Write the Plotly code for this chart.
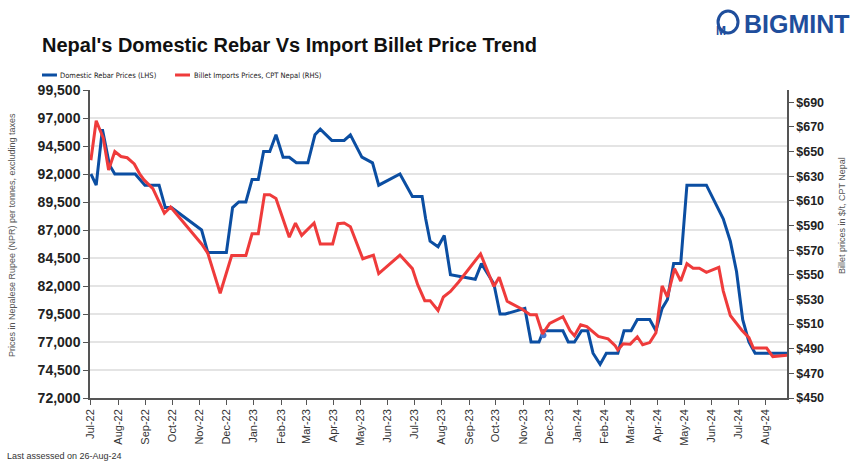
import plotly.graph_objects as go

# Domestic rebar (LHS, NPR/t)
rebar_dates = [
    "2022-07-01", "2022-07-07", "2022-07-14", "2022-07-22", "2022-07-28", "2022-08-20",
    "2022-08-31", "2022-09-16", "2022-09-23", "2022-09-30", "2022-11-03", "2022-11-10",
    "2022-12-01", "2022-12-08", "2022-12-15", "2022-12-23", "2022-12-30", "2023-01-06",
    "2023-01-12", "2023-01-19", "2023-01-26", "2023-02-03", "2023-02-10", "2023-02-18",
    "2023-03-03", "2023-03-11", "2023-03-17", "2023-03-30", "2023-04-13", "2023-04-20",
    "2023-05-03", "2023-05-09", "2023-05-15", "2023-05-22", "2023-06-15", "2023-06-29",
    "2023-07-10", "2023-07-14", "2023-07-19", "2023-07-28", "2023-08-04", "2023-08-11",
    "2023-09-08", "2023-09-15", "2023-09-29", "2023-10-06", "2023-10-12", "2023-11-03",
    "2023-11-10", "2023-11-19", "2023-11-24", "2023-12-16", "2023-12-22", "2023-12-29",
    "2024-01-06", "2024-01-13", "2024-01-19", "2024-01-27", "2024-02-03", "2024-02-16",
    "2024-02-23", "2024-03-02", "2024-03-09", "2024-03-23", "2024-03-30", "2024-04-06",
    "2024-04-12", "2024-04-19", "2024-04-27", "2024-05-04", "2024-05-26", "2024-06-14",
    "2024-06-22", "2024-06-29", "2024-07-06", "2024-07-13", "2024-07-20", "2024-08-25",
]
rebar_prices = [
    92000, 91000, 96000, 92800, 92000, 92000,
    91000, 91000, 89000, 89000, 87000, 85000,
    85000, 89000, 89500, 89500, 91500, 91500,
    94000, 94000, 95500, 93500, 93500, 93000,
    93000, 95500, 96000, 95000, 95000, 95500,
    93500, 93250, 93000, 91000, 92000, 90000,
    90000, 88000, 86000, 85500, 86500, 83000,
    82600, 84000, 82200, 79500, 79500, 80000,
    77000, 77000, 78000, 78000, 77000, 77000,
    78000, 78000, 76000, 75000, 76000, 76000,
    78000, 78000, 79000, 79000, 78000, 80000,
    80800, 84000, 84000, 91000, 91000, 88000,
    86000, 83300, 79000, 77000, 76000, 76000,
]

# Billet imports CPT Nepal (RHS, $/t)
billet_dates = [
    "2022-07-01", "2022-07-07", "2022-07-15", "2022-07-21", "2022-07-28", "2022-08-04",
    "2022-08-11", "2022-08-19", "2022-08-25", "2022-08-30", "2022-09-09", "2022-09-22",
    "2022-09-29", "2022-11-03", "2022-11-10", "2022-11-24", "2022-12-07", "2022-12-23",
    "2022-12-30", "2023-01-06", "2023-01-13", "2023-01-19", "2023-01-26", "2023-02-10",
    "2023-02-17", "2023-02-24", "2023-03-10", "2023-03-17", "2023-03-31", "2023-04-06",
    "2023-04-13", "2023-04-20", "2023-05-04", "2023-05-16", "2023-05-22", "2023-06-15",
    "2023-06-29", "2023-07-05", "2023-07-13", "2023-07-19", "2023-07-28", "2023-08-03",
    "2023-08-11", "2023-08-20", "2023-09-14", "2023-09-29", "2023-10-05", "2023-10-14",
    "2023-10-31", "2023-11-09", "2023-11-16", "2023-11-23", "2023-12-01", "2023-12-16",
    "2023-12-24", "2023-12-29", "2024-01-05", "2024-01-12", "2024-01-25", "2024-02-05",
    "2024-02-13", "2024-02-16", "2024-02-22", "2024-03-01", "2024-03-09", "2024-03-15",
    "2024-03-23", "2024-03-30", "2024-04-06", "2024-04-12", "2024-04-20", "2024-04-27",
    "2024-05-04", "2024-05-11", "2024-05-18", "2024-05-26", "2024-06-09", "2024-06-14",
    "2024-06-22", "2024-07-05", "2024-07-13", "2024-07-18", "2024-08-02", "2024-08-09",
    "2024-08-25",
]
billet_prices = [
    643, 675, 661, 635, 650, 646,
    645, 640, 632, 627, 620, 600,
    605, 575, 567.5, 535, 565.6, 565.6,
    583.3, 583.3, 615, 615, 612, 580.5,
    592, 582, 592, 575, 575, 591.5,
    592, 589, 563, 566, 551, 566,
    555, 542, 529, 529, 521, 532,
    536.5, 544, 567, 540.5, 548, 528.5,
    522, 517.6, 517.6, 502, 510.5, 516,
    504.6, 500.5, 509.5, 508, 500, 498,
    492.4, 489, 494, 493.7, 499.7, 493.2,
    495, 503, 541, 532, 555, 545,
    559, 555.3, 555.3, 552, 556, 537,
    517, 505, 499, 490.5, 490.5, 483.6,
    484.8,
]

BLUE = "#0b4ea2"
RED = "#ef3b3b"
FONT = "Liberation Sans"
NARROW = "DejaVu Sans Condensed, Roboto Condensed, Roboto"

fig = go.Figure()
fig.add_trace(go.Scatter(x=rebar_dates, y=rebar_prices, mode="lines", name="Domestic Rebar Prices (LHS)",
                         line=dict(color=BLUE, width=3)))
fig.add_trace(go.Scatter(x=billet_dates, y=billet_prices, mode="lines", yaxis="y2",
                         name="Billet Imports Prices, CPT Nepal (RHS)", line=dict(color=RED, width=3)))
# the single marker point visible on the rebar line
fig.add_trace(go.Scatter(x=[rebar_dates[50]], y=[rebar_prices[50] - 400], mode="markers",
                         marker=dict(color="#4a78cf", size=6), showlegend=False))

fig.update_layout(
    width=851, height=462,
    margin=dict(l=90, r=64, t=90, b=64),
    paper_bgcolor="white", plot_bgcolor="white",
    font=dict(family=FONT, color="#333333"),
    showlegend=False,
    xaxis=dict(
        type="date", range=["2022-06-30", "2024-08-25"],
        tick0="2022-07-01", dtick="M1", tickformat="%b-%y", tickangle=-90,
        ticks="outside", ticklen=5, tickcolor="#555555",
        showline=True, linecolor="#555555", linewidth=1.5,
        showgrid=False, tickfont=dict(size=11, color="#333333"),
    ),
    yaxis=dict(
        range=[72000, 99500], dtick=2500, tick0=72000, tickformat=",",
        ticks="outside", ticklen=5, tickcolor="#555555",
        showline=True, linecolor="#555555", linewidth=1.5,
        showgrid=True, gridcolor="#e4e4e4", gridwidth=2, zeroline=False,
        tickfont=dict(size=14, color="#222222", weight="bold"),
    ),
    yaxis2=dict(
        range=[450, 700], dtick=20, tick0=450, tickprefix="$",
        overlaying="y", side="right",
        ticks="outside", ticklen=5, tickcolor="#555555",
        showline=True, linecolor="#555555", linewidth=1.5,
        showgrid=False, zeroline=False,
        tickfont=dict(size=12.5, color="#222222", weight="bold"),
    ),
)

# title, legend, axis titles, footnote, logo
notes = [
    dict(text="<b>Nepal's Domestic Rebar Vs Import Billet Price Trend</b>", x=-0.0717, y=1.146,
         xanchor="left", yanchor="middle", font=dict(size=20, color="#111111")),
    dict(text="Domestic Rebar Prices (LHS)", x=-0.0459, y=1.0487, xanchor="left", yanchor="middle",
         font=dict(size=7.5, family=NARROW, color="#222222")),
    dict(text="Billet Imports Prices, CPT Nepal (RHS)", x=0.1463, y=1.0487, xanchor="left", yanchor="middle",
         font=dict(size=7.5, family=NARROW, color="#222222")),
    dict(text="Prices in Nepalese Rupee (NPR) per tonnes, excluding taxes", x=-0.1119, y=0.529,
         textangle=-90, xanchor="center", yanchor="middle", font=dict(size=9, color="#555555")),
    dict(text="Billet prices in $/t, CPT Nepal", x=1.0789, y=0.594,
         textangle=-90, xanchor="center", yanchor="middle", font=dict(size=9, color="#555555")),
    dict(text="Last assessed on 26-Aug-24", x=-0.122, y=-0.188, xanchor="left", yanchor="middle",
         font=dict(size=9, color="#333333")),
    dict(text="<b>BIGMINT</b>", x=0.9354, y=1.214, xanchor="left", yanchor="middle",
         font=dict(size=25, color="#1f4e9c")),
]
for n in notes:
    fig.add_annotation(xref="paper", yref="paper", showarrow=False, **n)

fig.add_shape(type="line", xref="paper", yref="paper", x0=-0.0689, x1=-0.0474, y0=1.0487, y1=1.0487,
              line=dict(color=BLUE, width=3))
fig.add_shape(type="line", xref="paper", yref="paper", x0=0.122, x1=0.1435, y0=1.0487, y1=1.0487,
              line=dict(color=RED, width=3))
fig.add_shape(type="circle", xref="paper", yref="paper", xsizemode="pixel", ysizemode="pixel",
              xanchor=0.9154, yanchor=1.2208, x0=-10, x1=10, y0=-11, y1=11,
              line=dict(color="#1f4e9c", width=3), fillcolor="white")
fig.add_annotation(xref="paper", yref="paper", x=0.9154, y=1.2208, showarrow=False, text="<b>M</b>",
                   font=dict(size=12, color="#1f4e9c"))

fig.write_html("out.html", config={"displayModeBar": False},
               post_script="document.body.style.margin='0';")
